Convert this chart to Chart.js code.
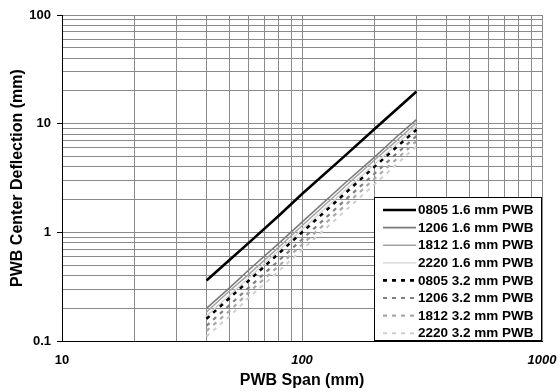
<!DOCTYPE html>
<html>
<head>
<meta charset="utf-8">
<title>PWB Center Deflection vs Span</title>
<script src="https://cdn.jsdelivr.net/npm/chart.js@4.4.1/dist/chart.umd.min.js"></script>
<style>
  html, body { margin: 0; padding: 0; background: #fff; }
  #wrap { width: 560px; height: 392px; }
</style>
</head>
<body>
<div id="wrap"><canvas id="deflChart" width="560" height="392"></canvas></div>
<script>
// --- datos ---
const spans = [40, 50, 60, 80, 100, 150, 200, 250, 300];

const d0805_16 = [0.36, 0.56, 0.80, 1.42, 2.25, 5.0, 8.9, 13.8, 19.8];
const d1206_16 = [0.20, 0.31, 0.45, 0.79, 1.24, 2.8, 4.9, 7.7, 10.9];
const d1812_16 = [0.185, 0.29, 0.41, 0.73, 1.15, 2.6, 4.6, 7.1, 10.2];
const d2220_16 = [0.17, 0.265, 0.38, 0.68, 1.06, 2.4, 4.2, 6.6, 9.5];
const d0805_32 = [0.16, 0.25, 0.36, 0.64, 1.0, 2.25, 4.0, 6.2, 8.8];
const d1206_32 = [0.138, 0.215, 0.31, 0.55, 0.86, 1.95, 3.45, 5.4, 7.7];
const d1812_32 = [0.124, 0.19, 0.28, 0.49, 0.77, 1.74, 3.1, 4.8, 6.9];
const d2220_32 = [0.11, 0.17, 0.25, 0.44, 0.69, 1.55, 2.75, 4.3, 6.2];

const seriesNames = [
    '0805 1.6 mm PWB', '1206 1.6 mm PWB', '1812 1.6 mm PWB', '2220 1.6 mm PWB',
    '0805 3.2 mm PWB', '1206 3.2 mm PWB', '1812 3.2 mm PWB', '2220 3.2 mm PWB'
];
const seriesValues = [d0805_16, d1206_16, d1812_16, d2220_16, d0805_32, d1206_32, d1812_32, d2220_32];

// ticks (lineas de la grilla) y etiquetas de las decadas
const xTicks = [10, 20, 30, 40, 50, 60, 70, 80, 90, 100, 200, 300, 400, 500, 600, 700, 800, 900, 1000];
const yTicks = [0.1, 0.2, 0.3, 0.4, 0.5, 0.6, 0.7, 0.8, 0.9, 1, 2, 3, 4, 5, 6, 7, 8, 9,
                10, 20, 30, 40, 50, 60, 70, 80, 90, 100];
const xLabels = { 10: '10', 100: '100', 1000: '1000' };
const yLabels = { 0.1: '0.1', 1: '1', 10: '10', 100: '100' };

// estilos por serie
const lineColors = ['#000000', '#7a7a7a', '#a2a2a2', '#d2d2d2', '#000000', '#808080', '#a8a8a8', '#cfcfcf'];
const lineWidths = [2.6, 1.6, 1.5, 1.3, 2.6, 2.2, 2.2, 2.0];
const lineDashes = [[], [], [], [], [4, 5], [4, 5], [4, 5], [4, 5]];

const FONT = 'Arial, "Liberation Sans", sans-serif';

function isDecade(v) {
    const l = Math.log10(v);
    return Math.abs(l - Math.round(l)) < 1e-6;
}

const datasets = seriesNames.map((name, i) => ({
    label: name,
    data: spans.map((s, j) => ({ x: s, y: seriesValues[i][j] })),
    borderColor: lineColors[i],
    borderWidth: lineWidths[i],
    borderDash: lineDashes[i],
    pointRadius: 0,
    fill: false,
    tension: 0
}));

// leyenda dentro del area del grafico (abajo a la derecha)
const insideLegend = {
    id: 'insideLegend',
    afterDraw(chart) {
        const ctx = chart.ctx;
        const area = chart.chartArea;
        const boxW = 168, boxH = 144;
        const left = area.right - boxW;
        const top = area.bottom - boxH;
        ctx.save();
        ctx.fillStyle = '#fff';
        ctx.fillRect(left, top, boxW, boxH);
        ctx.strokeStyle = '#000';
        ctx.lineWidth = 1;
        ctx.strokeRect(left + 0.5, top + 0.5, boxW - 1, boxH - 1);
        ctx.font = 'bold 13.5px ' + FONT;
        ctx.textBaseline = 'middle';
        chart.data.datasets.forEach((ds, i) => {
            const y = top + 13 + i * 17.6;
            ctx.beginPath();
            ctx.setLineDash(ds.borderDash);
            ctx.strokeStyle = ds.borderColor;
            ctx.lineWidth = ds.borderWidth;
            ctx.moveTo(left + 9, y);
            ctx.lineTo(left + 42, y);
            ctx.stroke();
            ctx.setLineDash([]);
            ctx.fillStyle = '#000';
            ctx.fillText(ds.label, left + 44, y + 0.5);
        });
        ctx.restore();
    }
};

const chartCtx = document.getElementById('deflChart').getContext('2d');
new Chart(chartCtx, {
    type: 'line',
    data: { datasets: datasets },
    options: {
        responsive: false,
        animation: false,
        layout: { padding: { top: 15, right: 18, left: 0, bottom: 0 } },
        plugins: {
            legend: { display: false },
            tooltip: { enabled: false }
        },
        scales: {
            x: {
                type: 'logarithmic',
                min: 10,
                max: 1000,
                afterBuildTicks: scale => { scale.ticks = xTicks.map(v => ({ value: v })); },
                afterFit: scale => {
                    scale.height = 51;
                    scale.paddingLeft = 0;
                    scale.paddingRight = 0;
                },
                border: { display: true, color: '#000', width: 1 },
                grid: { color: '#8a8a8a', lineWidth: 1, drawTicks: false },
                ticks: {
                    autoSkip: false,
                    maxRotation: 0,
                    padding: 12,
                    color: '#000',
                    font: ctx => ({
                        family: FONT,
                        size: 13,
                        weight: 'bold',
                        style: ctx.tick && ctx.tick.value > 10 ? 'italic' : 'normal'
                    }),
                    callback: v => xLabels[v] || ''
                },
                title: {
                    display: true,
                    text: 'PWB Span (mm)',
                    color: '#000',
                    font: { family: FONT, size: 16, weight: 'bold' },
                    padding: { top: 0, bottom: 2 }
                }
            },
            y: {
                type: 'logarithmic',
                min: 0.1,
                max: 100,
                afterBuildTicks: scale => { scale.ticks = yTicks.map(v => ({ value: v })); },
                afterFit: scale => {
                    scale.width = 62;
                    scale.paddingTop = 0;
                    scale.paddingBottom = 0;
                },
                border: { display: true, color: '#000', width: 1 },
                grid: {
                    color: '#8a8a8a',
                    lineWidth: 1,
                    tickLength: 5,
                    tickColor: ctx => (ctx.tick && isDecade(ctx.tick.value)) ? '#000' : 'rgba(0,0,0,0)'
                },
                ticks: {
                    autoSkip: false,
                    padding: 6,
                    color: '#000',
                    font: { family: FONT, size: 13, weight: 'bold' },
                    callback: v => yLabels[v] || ''
                },
                title: {
                    display: true,
                    text: 'PWB Center Deflection (mm)',
                    color: '#000',
                    font: { family: FONT, size: 16, weight: 'bold' },
                    padding: { top: 8, bottom: 0 }
                }
            }
        }
    },
    plugins: [insideLegend]
});
</script>
</body>
</html>
